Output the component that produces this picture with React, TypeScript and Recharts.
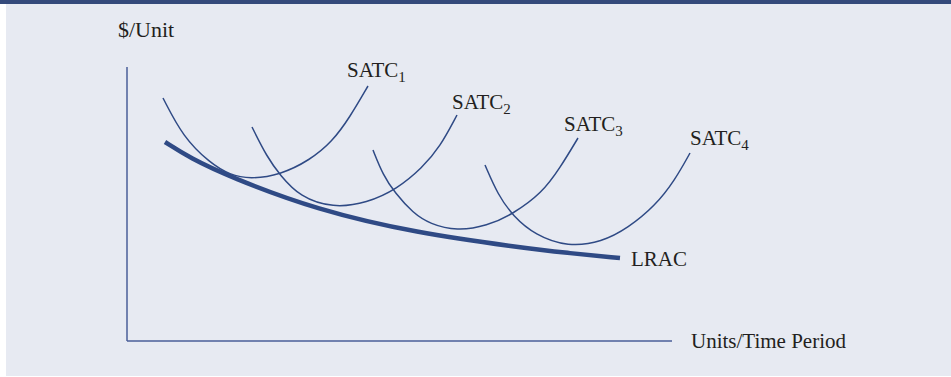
import React from "react";
import { LineChart, Line, XAxis, YAxis, ReferenceLine, ReferenceDot } from "recharts";

type P = { x: number; y: number };

const lrac: P[] = [
  { x: 38, y: 199 }, { x: 63, y: 183 }, { x: 103, y: 164 }, { x: 190, y: 131 },
  { x: 290, y: 108 }, { x: 390, y: 94 }, { x: 440, y: 88 }, { x: 493, y: 83 },
];
const satc1: P[] = [
  { x: 36, y: 243 }, { x: 56, y: 204 }, { x: 83, y: 178 }, { x: 103, y: 166 }, { x: 123, y: 162 },
  { x: 153, y: 166 }, { x: 183, y: 181 }, { x: 205, y: 199 }, { x: 223, y: 224 }, { x: 241, y: 255 },
];
const satc2: P[] = [
  { x: 125, y: 214 }, { x: 140, y: 184 }, { x: 153, y: 166 }, { x: 173, y: 144 }, { x: 206, y: 133 },
  { x: 240, y: 138 }, { x: 270, y: 152 }, { x: 295, y: 173 }, { x: 313, y: 194 }, { x: 330, y: 226 },
];
const satc3: P[] = [
  { x: 246, y: 191 }, { x: 256, y: 166 }, { x: 268, y: 148 }, { x: 286, y: 128 }, { x: 303, y: 117 },
  { x: 330, y: 110 }, { x: 360, y: 115 }, { x: 386, y: 127 }, { x: 415, y: 148 }, { x: 433, y: 173 },
  { x: 451, y: 203 },
];
const satc4: P[] = [
  { x: 358, y: 176 }, { x: 371, y: 146 }, { x: 386, y: 125 }, { x: 408, y: 106 }, { x: 441, y: 94 },
  { x: 475, y: 99 }, { x: 501, y: 113 }, { x: 528, y: 135 }, { x: 548, y: 161 }, { x: 563, y: 188 },
];

type Lbl = { text: string; sub?: string; x: number; y: number; size?: number };
const labels: Lbl[] = [
  { text: "SATC", sub: "1", x: 220, y: 264 },
  { text: "SATC", sub: "2", x: 325, y: 232 },
  { text: "SATC", sub: "3", x: 437, y: 210 },
  { text: "SATC", sub: "4", x: 563, y: 196 },
  { text: "LRAC", x: 504, y: 75 },
  { text: "Units/Time Period", x: 564, y: -7 },
  { text: "$/Unit", x: -9, y: 304, size: 22 },
];

const xAxisEnd = 545;
const yAxisEnd = 274;

const LINE = "#2F4A85";
const AXIS = "#4A5E98";
const TXT = "#231F20";
const FONT = "'Liberation Serif', 'Times New Roman', serif";

const makeShape = (l: Lbl) => (props: any) => (
  <text x={props.cx} y={props.cy} fill={TXT} fontFamily={FONT} fontSize={l.size ?? 21}>
    {l.text}
    {l.sub ? (
      <tspan fontSize={15} dy={5}>
        {l.sub}
      </tspan>
    ) : null}
  </text>
);

export default function App() {
  const series = [satc1, satc2, satc3, satc4];
  return (
    <div style={{ position: "absolute", left: 0, top: 0, width: 951, height: 377, background: "#ffffff" }}>
      <div
        style={{
          position: "absolute",
          left: 6,
          top: 0,
          width: 945,
          height: 376,
          background: "#E7EAF2",
        }}
      />
      <div style={{ position: "absolute", left: 0, top: 0, width: 951, height: 4, background: "#344A7B" }} />
      <div style={{ position: "absolute", left: 0, top: 0 }}>
        <LineChart width={951} height={377} margin={{ left: 127, right: 224, top: 41, bottom: 36 }}>
          <XAxis type="number" dataKey="x" domain={[0, 600]} hide height={0} allowDataOverflow />
          <YAxis type="number" dataKey="y" domain={[0, 300]} hide width={0} allowDataOverflow />
          <ReferenceLine
            segment={[{ x: 0, y: 0 }, { x: xAxisEnd, y: 0 }]}
            stroke={AXIS}
            strokeWidth={1.5}
            ifOverflow="visible"
          />
          <ReferenceLine
            segment={[{ x: 0, y: 0 }, { x: 0, y: yAxisEnd }]}
            stroke={AXIS}
            strokeWidth={1.5}
            ifOverflow="visible"
          />
          {series.map((d, i) => (
            <Line
              key={i}
              data={d}
              dataKey="y"
              type="basis"
              stroke={LINE}
              strokeWidth={1.5}
              dot={false}
              isAnimationActive={false}
            />
          ))}
          <Line
            data={lrac}
            dataKey="y"
            type="basis"
            stroke={LINE}
            strokeWidth={4.5}
            dot={false}
            isAnimationActive={false}
          />
          {labels.map((l, i) => (
            <ReferenceDot key={i} x={l.x} y={l.y} r={0} ifOverflow="visible" shape={makeShape(l)} />
          ))}
        </LineChart>
      </div>
    </div>
  );
}
